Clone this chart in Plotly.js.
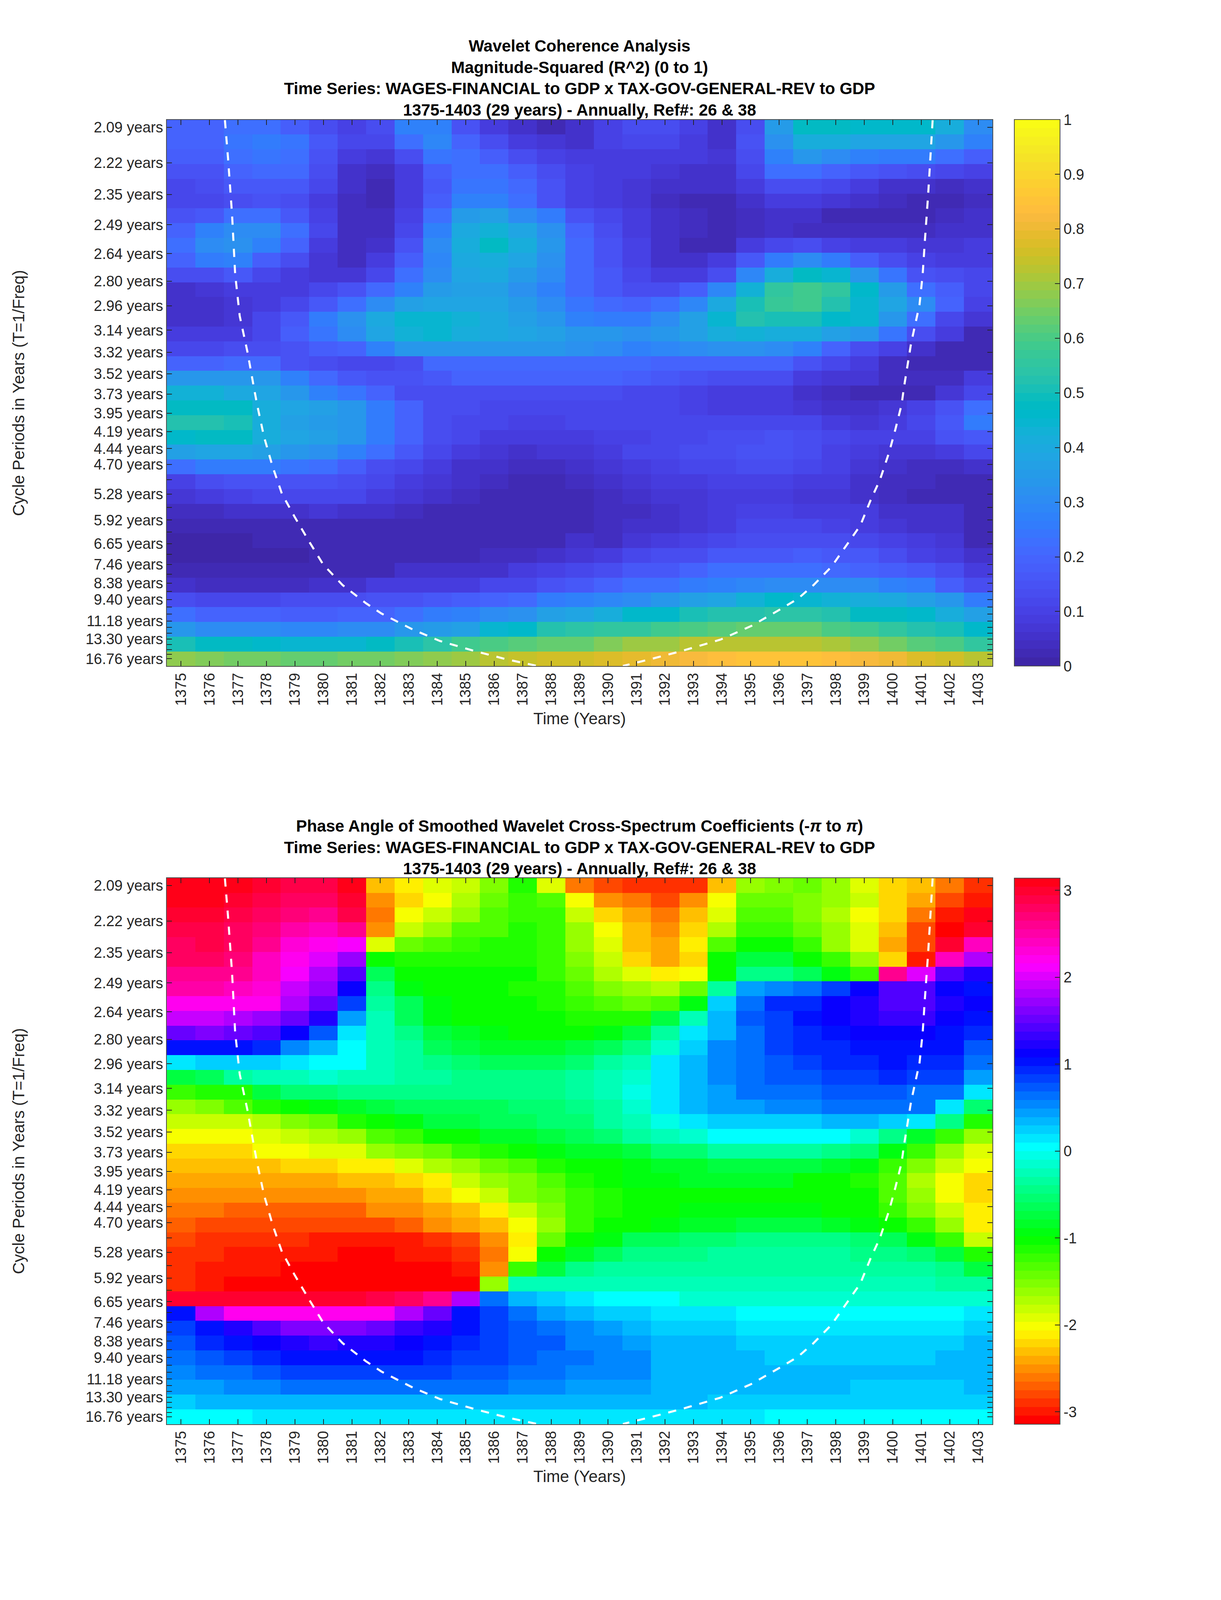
<!DOCTYPE html>
<html>
<head>
<meta charset="utf-8">
<script src="https://cdn.plot.ly/plotly-3.0.1.min.js"></script>
<style>
  html, body { margin: 0; padding: 0; background: #fff; overflow: hidden; }
</style>
</head>
<body>
<div id="chart"></div>
<script>
// Data
const years = [1375,1376,1377,1378,1379,1380,1381,1382,1383,1384,1385,1386,1387,1388,1389,1390,1391,1392,1393,1394,1395,1396,1397,1398,1399,1400,1401,1402,1403];
const periods = [2.09,2.22,2.35,2.49,2.64,2.80,2.96,3.14,3.32,3.52,3.73,3.95,4.19,4.44,4.70,4.98,5.28,5.59,5.92,6.27,6.65,7.05,7.46,7.91,8.38,8.88,9.40,9.96,10.55,11.18,11.85,12.55,13.30,14.09,14.93,15.82,16.76];
const periodLabels = ['2.09 years','2.22 years','2.35 years','2.49 years','2.64 years','2.80 years','2.96 years','3.14 years','3.32 years','3.52 years','3.73 years','3.95 years','4.19 years','4.44 years','4.70 years','','5.28 years','','5.92 years','','6.65 years','','7.46 years','','8.38 years','','9.40 years','','','11.18 years','','','13.30 years','','','','16.76 years'];

// Magnitude-squared coherence, top row first
const coherence = [
  [.2,.2,.22,.22,.18,.14,.1,.14,.28,.28,.15,.08,.05,.03,.05,.1,.13,.13,.1,.06,.14,.35,.47,.47,.46,.46,.46,.42,.3],
  [.19,.19,.24,.26,.24,.16,.11,.12,.22,.29,.2,.13,.09,.07,.06,.1,.11,.11,.09,.06,.15,.32,.42,.41,.39,.39,.39,.33,.28],
  [.18,.18,.22,.24,.23,.15,.09,.07,.14,.24,.22,.18,.14,.1,.08,.08,.09,.09,.08,.07,.14,.27,.34,.31,.28,.25,.25,.23,.18],
  [.15,.15,.2,.21,.21,.14,.06,.04,.09,.18,.22,.22,.18,.13,.1,.08,.08,.07,.05,.06,.12,.22,.23,.2,.17,.15,.13,.12,.1],
  [.12,.13,.16,.17,.16,.11,.05,.03,.09,.17,.24,.24,.21,.15,.1,.08,.07,.05,.05,.06,.09,.14,.14,.12,.09,.06,.05,.04,.05],
  [.11,.11,.14,.15,.13,.08,.04,.03,.09,.18,.28,.28,.23,.15,.1,.08,.07,.04,.03,.03,.06,.09,.09,.07,.05,.04,.03,.03,.04],
  [.15,.17,.22,.22,.17,.1,.04,.04,.1,.23,.35,.36,.3,.25,.15,.11,.08,.05,.04,.03,.04,.05,.05,.03,.03,.03,.03,.04,.05],
  [.2,.27,.3,.3,.22,.11,.04,.04,.11,.27,.4,.43,.39,.32,.19,.13,.09,.06,.04,.03,.04,.06,.04,.04,.04,.04,.04,.05,.06],
  [.23,.3,.32,.27,.19,.09,.04,.06,.15,.3,.42,.47,.41,.33,.21,.15,.1,.05,.03,.03,.08,.11,.14,.1,.08,.08,.07,.07,.08],
  [.2,.25,.27,.18,.13,.07,.04,.08,.18,.29,.4,.42,.39,.32,.21,.15,.1,.06,.05,.09,.17,.25,.3,.26,.18,.14,.1,.09,.09],
  [.13,.14,.16,.12,.08,.07,.07,.12,.22,.3,.38,.4,.35,.3,.21,.16,.12,.09,.08,.14,.29,.42,.48,.44,.34,.24,.15,.13,.11],
  [.06,.07,.09,.09,.09,.12,.15,.21,.28,.35,.36,.36,.32,.27,.21,.17,.14,.14,.18,.29,.43,.55,.59,.56,.46,.35,.22,.18,.12],
  [.05,.05,.07,.08,.12,.17,.23,.31,.36,.38,.38,.38,.35,.3,.24,.21,.2,.22,.29,.4,.5,.57,.58,.52,.44,.38,.3,.2,.1],
  [.06,.06,.07,.12,.16,.25,.32,.4,.44,.45,.43,.4,.37,.33,.28,.26,.25,.3,.36,.44,.52,.5,.5,.46,.44,.34,.22,.12,.07],
  [.08,.08,.09,.12,.18,.24,.31,.38,.43,.44,.41,.4,.38,.36,.34,.33,.32,.33,.36,.42,.43,.42,.41,.37,.34,.24,.13,.08,.03],
  [.12,.12,.13,.13,.15,.18,.2,.27,.33,.34,.33,.33,.33,.33,.32,.3,.28,.29,.3,.32,.32,.3,.27,.2,.13,.1,.05,.03,.03],
  [.19,.19,.21,.21,.15,.13,.12,.12,.14,.21,.21,.21,.21,.21,.21,.21,.21,.2,.2,.2,.2,.2,.15,.11,.08,.04,.03,.02,.02],
  [.33,.33,.33,.33,.27,.21,.17,.15,.15,.17,.19,.19,.19,.2,.2,.19,.18,.17,.15,.13,.13,.13,.09,.07,.07,.04,.04,.04,.08],
  [.43,.43,.4,.39,.33,.28,.24,.19,.14,.13,.13,.14,.14,.14,.14,.14,.12,.12,.1,.09,.09,.08,.05,.04,.03,.02,.02,.07,.12],
  [.48,.48,.48,.42,.38,.36,.33,.25,.2,.14,.14,.12,.11,.12,.12,.12,.12,.11,.1,.09,.09,.08,.07,.06,.06,.07,.1,.15,.22],
  [.52,.52,.5,.42,.36,.35,.33,.25,.2,.14,.11,.11,.1,.1,.11,.11,.12,.12,.12,.11,.12,.12,.12,.08,.07,.08,.12,.17,.25],
  [.46,.47,.47,.42,.38,.36,.33,.25,.19,.13,.11,.09,.09,.09,.09,.1,.1,.12,.12,.14,.14,.15,.14,.12,.1,.1,.1,.15,.17],
  [.36,.38,.38,.36,.33,.32,.28,.22,.17,.12,.09,.07,.06,.07,.07,.08,.11,.11,.13,.14,.15,.15,.13,.1,.08,.07,.07,.09,.11],
  [.22,.25,.25,.25,.24,.23,.18,.14,.11,.09,.06,.05,.04,.04,.05,.07,.08,.1,.11,.12,.13,.13,.12,.1,.07,.06,.04,.04,.05],
  [.1,.13,.15,.15,.15,.15,.14,.12,.09,.07,.05,.04,.03,.03,.04,.06,.07,.09,.09,.1,.1,.1,.09,.08,.06,.04,.04,.03,.03],
  [.07,.08,.1,.11,.12,.12,.11,.08,.07,.05,.04,.03,.03,.03,.03,.04,.05,.07,.07,.09,.09,.09,.07,.07,.05,.04,.03,.03,.02],
  [.04,.04,.05,.06,.06,.07,.05,.05,.04,.03,.03,.03,.03,.03,.03,.04,.04,.06,.07,.08,.1,.1,.09,.08,.08,.06,.05,.05,.02],
  [.02,.02,.03,.03,.03,.03,.03,.03,.03,.03,.03,.03,.03,.03,.03,.04,.05,.06,.07,.09,.11,.11,.11,.1,.09,.07,.06,.05,.03],
  [.015,.015,.015,.02,.02,.02,.02,.02,.02,.02,.02,.02,.02,.03,.05,.04,.07,.08,.1,.12,.13,.14,.14,.13,.12,.1,.08,.07,.03],
  [.015,.015,.015,.015,.015,.03,.02,.02,.02,.02,.02,.04,.04,.05,.07,.09,.11,.13,.14,.16,.17,.17,.18,.17,.16,.13,.1,.08,.06],
  [.02,.02,.02,.02,.02,.02,.02,.02,.05,.05,.05,.06,.08,.1,.11,.13,.16,.17,.2,.22,.23,.23,.22,.21,.2,.18,.16,.13,.08],
  [.06,.04,.04,.04,.04,.05,.06,.08,.08,.09,.09,.11,.12,.15,.16,.19,.22,.23,.26,.28,.29,.3,.3,.3,.3,.28,.25,.18,.14],
  [.13,.12,.12,.12,.13,.13,.13,.15,.15,.16,.18,.19,.21,.25,.27,.29,.3,.33,.36,.39,.43,.46,.44,.43,.41,.4,.37,.33,.25],
  [.22,.2,.19,.19,.18,.18,.19,.2,.22,.26,.28,.3,.32,.36,.38,.42,.46,.46,.5,.52,.52,.54,.54,.53,.48,.47,.46,.42,.36],
  [.33,.31,.31,.3,.29,.29,.3,.31,.33,.35,.36,.44,.46,.52,.54,.55,.55,.58,.6,.62,.63,.63,.63,.6,.58,.55,.53,.5,.46],
  [.5,.48,.47,.46,.45,.45,.45,.47,.5,.54,.58,.6,.62,.64,.64,.67,.69,.69,.72,.73,.73,.73,.73,.71,.68,.65,.62,.6,.55],
  [.68,.66,.65,.65,.63,.64,.65,.65,.67,.68,.7,.72,.74,.75,.76,.78,.79,.8,.82,.83,.85,.85,.85,.83,.82,.8,.78,.76,.73]
];

// Phase angle in radians, top row first
const phase = [
  [3.14,3.14,3.05,2.95,2.85,2.85,3.1,-2.32,-2.15,-1.92,-1.83,-1.48,-1.13,-1.92,-2.65,-2.83,-2.93,-2.93,-2.88,-2.27,-1.66,-1.48,-1.43,-1.66,-1.92,-2.18,-2.32,-2.65,-2.88],
  [3.1,3.1,3.0,2.85,2.8,2.8,3.0,-2.55,-2.25,-2.0,-1.75,-1.45,-1.25,-1.35,-2.05,-2.5,-2.65,-2.8,-2.55,-2.05,-1.45,-1.4,-1.5,-1.65,-1.85,-2.25,-2.4,-2.75,-3.0],
  [3.0,2.95,2.85,2.8,2.7,2.6,2.9,-2.65,-2.05,-1.8,-1.6,-1.35,-1.2,-1.25,-1.8,-2.25,-2.45,-2.6,-2.35,-1.9,-1.35,-1.3,-1.5,-1.7,-2.0,-2.25,-2.65,-3.0,3.1],
  [2.85,2.85,2.75,2.7,2.5,2.4,2.65,-2.55,-1.8,-1.6,-1.35,-1.3,-1.15,-1.25,-1.65,-2.05,-2.35,-2.5,-2.25,-1.75,-1.25,-1.25,-1.4,-1.6,-1.95,-2.35,-2.75,-3.05,2.95],
  [2.8,2.9,2.8,2.6,2.35,2.2,2.15,-1.95,-1.45,-1.3,-1.2,-1.15,-1.1,-1.2,-1.6,-1.95,-2.3,-2.45,-2.1,-1.35,-1.05,-1.05,-1.25,-1.6,-1.95,-2.4,-2.8,3.0,2.45],
  [2.8,2.8,2.7,2.45,2.2,2.0,1.75,-1.05,-1.1,-1.1,-1.1,-1.1,-1.15,-1.2,-1.55,-1.85,-2.25,-2.4,-2.25,-1.0,-.7,-.75,-1.0,-1.25,-1.65,-2.25,-3.0,2.4,1.85],
  [2.65,2.65,2.6,2.4,2.1,1.85,1.4,-.65,-1.0,-1.05,-1.05,-1.05,-1.05,-1.2,-1.45,-1.75,-1.95,-2.15,-2.05,-1.0,-.4,-.4,-.65,-.95,-1.25,2.65,2.0,1.45,1.25],
  [2.55,2.5,2.4,2.35,1.95,1.75,1.15,-.45,-.95,-1.05,-1.05,-1.05,-1.1,-1.15,-1.35,-1.5,-1.6,-1.7,-1.45,-.35,.44,.5,.62,.8,1.15,1.4,1.4,1.15,1.05],
  [2.2,2.2,2.2,2.2,1.85,1.5,.85,-.3,-.6,-.95,-1.0,-1.05,-1.05,-1.15,-1.25,-1.35,-1.45,-1.3,-.95,.25,.65,.9,.95,1.1,1.25,1.45,1.4,1.25,1.1],
  [1.95,1.95,1.8,1.7,1.5,1.2,.4,-.25,-.6,-.9,-1.0,-1.05,-1.05,-1.05,-1.1,-1.1,-1.1,-.75,-.2,.35,.7,.85,1.05,1.1,1.25,1.3,1.3,1.1,1.0],
  [1.5,1.65,1.55,1.45,1.15,.75,.15,-.2,-.4,-.7,-.85,-.95,-1.0,-1.0,-1.0,-.95,-.75,-.35,.12,.38,.65,.85,.95,1.05,1.1,1.1,1.1,1.05,.9],
  [1.05,1.05,1.05,.9,.55,.3,0,-.25,-.35,-.6,-.7,-.8,-.85,-.85,-.75,-.65,-.4,-.1,.22,.55,.6,.85,.9,.9,1.05,1.05,1.05,1.05,.75],
  [.1,.25,.25,.25,.1,0,0,-.2,-.3,-.45,-.55,-.6,-.6,-.6,-.55,-.35,-.2,.1,.35,.5,.6,.7,.8,.95,.95,1.05,.9,.9,.65],
  [-.7,-.6,-.3,-.2,-.2,-.15,-.2,-.25,-.3,-.35,-.4,-.4,-.4,-.4,-.3,-.2,-.1,.15,.35,.5,.65,.75,.75,.85,.85,.95,.85,.85,.45],
  [-1.25,-1.15,-1.15,-.75,-.55,-.5,-.4,-.4,-.4,-.4,-.4,-.4,-.4,-.4,-.35,-.25,-.05,.15,.35,.45,.6,.65,.65,.7,.7,.7,.65,.6,.15],
  [-1.6,-1.5,-1.3,-1.15,-1.05,-.9,-.85,-.7,-.6,-.6,-.6,-.6,-.55,-.5,-.45,-.35,-.1,.1,.35,.45,.45,.55,.55,.65,.6,.6,.6,.15,-.5],
  [-1.85,-1.85,-1.85,-1.7,-1.5,-1.4,-1.15,-1.05,-.9,-.75,-.7,-.65,-.6,-.55,-.5,-.3,-.2,-.05,.1,.25,.25,.25,.25,.3,.3,.2,.1,-.4,-1.15],
  [-2.0,-2.0,-2.0,-1.95,-1.85,-1.75,-1.6,-1.3,-1.2,-1.05,-1.0,-.85,-.8,-.7,-.65,-.5,-.3,-.2,-.1,0,0,.05,.05,0,-.1,-.4,-.8,-1.2,-1.6],
  [-2.2,-2.2,-2.2,-2.05,-2.05,-1.9,-1.9,-1.65,-1.55,-1.45,-1.2,-1.15,-1.05,-.95,-.85,-.8,-.7,-.55,-.5,-.35,-.3,-.3,-.35,-.4,-.55,-.95,-1.2,-1.6,-1.9],
  [-2.35,-2.35,-2.35,-2.35,-2.2,-2.2,-2.1,-2.1,-1.95,-1.7,-1.6,-1.45,-1.3,-1.15,-1.05,-1.0,-.9,-.8,-.8,-.7,-.7,-.7,-.7,-.8,-.95,-1.2,-1.5,-1.85,-2.05],
  [-2.4,-2.4,-2.4,-2.4,-2.4,-2.4,-2.3,-2.3,-2.2,-2.1,-1.85,-1.65,-1.5,-1.3,-1.1,-1.0,-.95,-.9,-.85,-.85,-.85,-.85,-1.0,-1.05,-1.1,-1.3,-1.7,-2.05,-2.2],
  [-2.5,-2.5,-2.5,-2.5,-2.5,-2.5,-2.5,-2.4,-2.4,-2.25,-2.05,-1.8,-1.55,-1.4,-1.2,-1.1,-1.05,-1.0,-1.0,-1.0,-1.0,-1.0,-1.0,-1.05,-1.05,-1.3,-1.65,-2.0,-2.25],
  [-2.6,-2.6,-2.7,-2.7,-2.7,-2.7,-2.7,-2.55,-2.55,-2.4,-2.3,-2.1,-1.8,-1.55,-1.25,-1.1,-1.05,-1.0,-.95,-.95,-.95,-.95,-.95,-1.0,-1.05,-1.2,-1.5,-1.85,-2.1],
  [-2.7,-2.8,-2.8,-2.8,-2.8,-2.8,-2.8,-2.8,-2.7,-2.55,-2.45,-2.3,-2.05,-1.65,-1.2,-1.05,-1.0,-.95,-.85,-.8,-.75,-.75,-.75,-.8,-.9,-1.05,-1.2,-1.6,-2.1],
  [-2.75,-2.9,-2.9,-2.9,-2.9,-3.0,-3.0,-3.0,-3.0,-2.9,-2.75,-2.5,-2.1,-1.4,-1.0,-.9,-.65,-.6,-.55,-.5,-.45,-.45,-.4,-.45,-.55,-.65,-.9,-1.2,-1.8],
  [-2.85,-2.85,-3.0,-3.0,-3.0,-3.0,-3.1,-3.1,-2.95,-2.95,-2.85,-2.6,-2.05,-1.05,-.8,-.6,-.45,-.4,-.4,-.35,-.35,-.35,-.35,-.35,-.4,-.45,-.55,-.75,-1.1],
  [-2.85,-3.0,-3.0,-3.0,-3.1,-3.1,-3.1,-3.1,-3.1,-3.1,-3.0,-2.55,-1.2,-.75,-.45,-.3,-.3,-.3,-.3,-.3,-.3,-.3,-.3,-.3,-.3,-.3,-.35,-.45,-.7],
  [-2.85,-3.0,-3.05,-3.05,-3.14,-3.14,-3.14,-3.14,-3.14,-3.14,-3.14,-1.6,-.25,-.25,-.25,-.25,-.25,-.25,-.25,-.25,-.25,-.25,-.25,-.25,-.25,-.25,-.25,-.35,-.35],
  [3.0,3.0,3.0,3.0,3.0,2.95,2.95,2.85,2.8,2.6,1.8,.65,.3,.2,.1,0,0,0,-.1,-.1,-.1,-.1,-.1,-.1,-.1,-.1,-.1,-.1,-.1],
  [1.05,1.85,2.2,2.2,2.2,2.2,2.2,2.2,1.85,1.5,1.05,.8,.6,.45,.35,.2,.2,.12,.12,.12,0,0,0,0,0,0,0,0,.1],
  [.85,1.05,1.25,1.45,1.6,1.6,1.6,1.5,1.35,1.25,1.05,.85,.75,.65,.5,.4,.3,.2,.2,.2,.1,.1,.1,.1,.1,.1,.1,.1,.2],
  [.75,.9,1.05,1.1,1.2,1.3,1.2,1.2,1.1,1.05,.95,.85,.75,.7,.55,.5,.4,.3,.3,.3,.2,.2,.2,.2,.2,.2,.2,.2,.3],
  [.6,.75,.85,.95,1.05,1.05,1.05,1.05,1.05,.95,.85,.85,.75,.65,.65,.5,.5,.38,.38,.3,.3,.2,.2,.2,.2,.2,.2,.3,.3],
  [.5,.6,.6,.75,.8,.8,.8,.8,.8,.8,.7,.7,.6,.6,.5,.5,.5,.38,.38,.3,.3,.3,.3,.3,.3,.3,.3,.3,.3],
  [.45,.45,.5,.5,.62,.62,.62,.62,.62,.62,.62,.62,.5,.5,.45,.45,.4,.38,.3,.3,.3,.3,.3,.3,.22,.22,.22,.22,.35],
  [.2,.3,.3,.3,.38,.38,.38,.38,.38,.38,.38,.38,.38,.38,.3,.3,.3,.3,.3,.2,.2,.2,.2,.2,.2,.2,.2,.2,.2],
  [.08,.08,.08,.15,.15,.15,.15,.15,.15,.15,.15,.15,.15,.15,.15,.15,.15,.15,.15,.15,.15,.08,.08,.08,.08,.08,.08,.08,.08]
];

// Cone of influence, read in year / frequency (1/T) pairs
const coiLeftYear = [1376.54,1376.65,1376.79,1376.90,1377.06,1377.34,1377.56,1377.67,1377.91,1378.21,1378.54,1378.98,1379.50,1379.99,1380.67,1381.49,1382.04,1383.14,1384.09,1385.32,1386.42,1387.51];
const coiLeftFreq = [.4840,.4539,.4100,.3626,.3297,.3005,.2731,.2600,.2349,.2114,.1898,.1718,.1520,.1340,.1178,.1035,.0953,.0827,.0737,.0657,.0593,.0540];
const coiRightYear = [1401.40,1401.32,1401.24,1401.13,1401.05,1400.94,1400.64,1400.39,1400.31,1400.09,1399.87,1399.55,1399.22,1398.86,1398.31,1397.85,1397.22,1396.67,1396.07,1395.03,1393.94,1392.57,1391.48,1390.52];
const coiRightFreq = [.4840,.4539,.4246,.3900,.3626,.3388,.3078,.2731,.2600,.2403,.2222,.2007,.1845,.1647,.1467,.1323,.1178,.1070,.0989,.0855,.0747,.0657,.0593,.0540];

// Old parula, 64 steps
const parula = [[.2422,.1504,.6603],[.2504,.1650,.7076],[.2578,.1818,.7511],[.2647,.1978,.7952],[.2706,.2147,.8364],[.2751,.2342,.8710],[.2783,.2559,.8991],[.2803,.2782,.9221],[.2813,.3006,.9414],[.2810,.3228,.9579],[.2795,.3447,.9717],[.2760,.3667,.9829],[.2699,.3892,.9906],[.2602,.4123,.9952],[.2440,.4358,.9988],[.2206,.4603,.9973],[.1963,.4847,.9892],[.1834,.5074,.9798],[.1786,.5289,.9682],[.1764,.5499,.9520],[.1687,.5703,.9359],[.1540,.5902,.9218],[.1460,.6091,.9079],[.1380,.6276,.8973],[.1248,.6459,.8883],[.1113,.6635,.8763],[.0952,.6798,.8598],[.0689,.6948,.8394],[.0297,.7082,.8163],[.0036,.7203,.7917],[.0067,.7312,.7660],[.0433,.7411,.7394],[.0964,.7500,.7120],[.1408,.7584,.6842],[.1717,.7670,.6554],[.1938,.7758,.6251],[.2161,.7843,.5923],[.2470,.7918,.5567],[.2906,.7973,.5188],[.3406,.8008,.4789],[.3909,.8029,.4354],[.4456,.8024,.3909],[.5044,.7993,.3480],[.5616,.7942,.3045],[.6174,.7876,.2612],[.6720,.7793,.2227],[.7242,.7698,.1910],[.7738,.7598,.1646],[.8203,.7498,.1535],[.8634,.7406,.1596],[.9035,.7330,.1774],[.9393,.7288,.2100],[.9728,.7298,.2394],[.9956,.7434,.2371],[.9970,.7659,.2199],[.9952,.7893,.2028],[.9892,.8136,.1885],[.9786,.8386,.1766],[.9676,.8639,.1643],[.9610,.8890,.1537],[.9597,.9135,.1423],[.9628,.9373,.1265],[.9691,.9606,.1064],[.9769,.9839,.0805]];

// Layout is measured on the 3125x6252 reference and scaled to the real window,
// the renderer can hand us a shorter window than that and would cut the lower panel
const REF_W = 3125, REF_H = 6252;
const W = window.innerWidth || REF_W;
const H = window.innerHeight || REF_H;
const s = Math.min(W / REF_W, H / REF_H);
const FONT = '"Liberation Sans", Arial, sans-serif';
const INK = '#262626';
const TICK_SIZE = 58 * s, LABEL_SIZE = 64 * s;

// Step colorscale so the bands stay hard, like the 64 colour MATLAB maps
function stepScale(colors) {
    const out = [];
    colors.forEach((c, i) => {
        out.push([i / colors.length, c]);
        out.push([(i + 1) / colors.length, c]);
    });
    return out;
}

const parulaScale = stepScale(parula.map(c => `rgb(${c.map(v => Math.round(v * 255)).join(',')})`));
const hsvScale = stepScale(Array.from({ length: 64 }, (_, i) => `hsl(${i / 64 * 360},100%,50%)`));

// Rows are evenly spaced in frequency, ticks sit at 1/T
const fTop = 1 / periods[0];
const fBottom = 1 / periods[periods.length - 1];
const df = (fTop - fBottom) / (periods.length - 1);
const rowFreq = periods.map((_, i) => fTop - i * df);
const tickFreq = periods.map(T => 1 / T);

const coiYear = [...coiLeftYear, null, ...coiRightYear];
const coiFreq = [...coiLeftFreq, null, ...coiRightFreq];

const plotLeft = 427, plotRight = 2540, barLeft = 2596;
const top1 = 468, bottom1 = 2603, top2 = 3431, bottom2 = 5565;
const plotCentre = (plotLeft + plotRight) / 2 / REF_W;

function heat(z, scale, zmin, zmax, xa, ya, top, bottom, tickvals) {
    return {
        type: 'heatmap', z, x: years, y: rowFreq, xaxis: xa, yaxis: ya,
        colorscale: scale, zmin, zmax,
        hoverinfo: 'skip',
        colorbar: {
            x: barLeft / REF_W, xanchor: 'left', xpad: 0,
            y: 1 - bottom / REF_H, yanchor: 'bottom', ypad: 0,
            len: (bottom - top) / REF_H, thickness: 117 * W / REF_W,
            outlinecolor: '#4d4d4d', outlinewidth: 3 * s,
            ticks: 'inside', ticklen: 20 * s, tickwidth: 3 * s, tickcolor: INK,
            tickmode: 'array', tickvals, ticktext: tickvals.map(String),
            tickfont: { family: FONT, size: TICK_SIZE, color: INK }
        }
    };
}

function coi(xa, ya) {
    return {
        type: 'scatter', mode: 'lines', x: coiYear, y: coiFreq, xaxis: xa, yaxis: ya,
        line: { color: '#fff', width: 8 * s, dash: `${32 * s}px,${31 * s}px` },
        showlegend: false, hoverinfo: 'skip'
    };
}

function xAxis(anchor) {
    return {
        anchor, domain: [plotLeft / REF_W, plotRight / REF_W], range: [1374.5, 1403.5],
        tickmode: 'array', tickvals: years, ticktext: years.map(String), tickangle: -90,
        ticks: 'inside', ticklen: 20 * s, tickwidth: 3 * s, tickcolor: INK,
        tickfont: { family: FONT, size: TICK_SIZE, color: INK }, ticklabelstandoff: 10 * s,
        showline: true, linecolor: '#4d4d4d', linewidth: 3 * s, mirror: 'allticks',
        showgrid: false, zeroline: false,
        title: { text: 'Time (Years)', font: { family: FONT, size: LABEL_SIZE, color: INK }, standoff: 28 * s }
    };
}

function yAxis(anchor, top, bottom) {
    return {
        anchor, domain: [1 - bottom / REF_H, 1 - top / REF_H], range: [fBottom - df / 2, fTop + df / 2],
        tickmode: 'array', tickvals: tickFreq, ticktext: periodLabels,
        ticks: 'inside', ticklen: 20 * s, tickwidth: 3 * s, tickcolor: INK,
        tickfont: { family: FONT, size: TICK_SIZE, color: INK }, ticklabelstandoff: 9 * s,
        showline: true, linecolor: '#4d4d4d', linewidth: 3 * s, mirror: 'allticks',
        showgrid: false, zeroline: false
    };
}

function titleNote(text, top) {
    return {
        xref: 'paper', yref: 'paper', showarrow: false,
        x: plotCentre, xanchor: 'center',
        y: 1 - top / REF_H, yanchor: 'top',
        text, font: { family: FONT, size: LABEL_SIZE, color: '#000', weight: 'bold' }
    };
}

function yTitleNote(top, bottom) {
    return {
        xref: 'paper', yref: 'paper', showarrow: false, textangle: -90,
        x: 48 / REF_W, xanchor: 'center',
        y: 1 - (top + bottom) / 2 / REF_H, yanchor: 'middle',
        text: 'Cycle Periods in Years (T=1/Freq)',
        font: { family: FONT, size: LABEL_SIZE, color: INK }
    };
}

const traces = [
    heat(coherence, parulaScale, 0, 1, 'x', 'y', top1, bottom1, [0, .1, .2, .3, .4, .5, .6, .7, .8, .9, 1]),
    coi('x', 'y'),
    heat(phase, hsvScale, -Math.PI, Math.PI, 'x2', 'y2', top2, bottom2, [-3, -2, -1, 0, 1, 2, 3]),
    coi('x2', 'y2')
];

const layout = {
    width: W, height: H,
    paper_bgcolor: '#fff', plot_bgcolor: '#fff',
    margin: { l: 0, r: 0, t: 0, b: 0 },
    showlegend: false,
    font: { family: FONT, color: INK },
    annotations: [
        titleNote('Wavelet Coherence Analysis<br>Magnitude-Squared (R^2) (0 to 1)<br>Time Series: WAGES-FINANCIAL to GDP x TAX-GOV-GENERAL-REV to GDP<br>1375-1403 (29 years) - Annually, Ref#: 26 &amp; 38', 140),
        titleNote('Phase Angle of Smoothed Wavelet Cross-Spectrum Coefficients (-<i>π</i> to <i>π</i>)<br>Time Series: WAGES-FINANCIAL to GDP x TAX-GOV-GENERAL-REV to GDP<br>1375-1403 (29 years) - Annually, Ref#: 26 &amp; 38', 3188),
        yTitleNote(top1, bottom1),
        yTitleNote(top2, bottom2)
    ],
    xaxis: xAxis('y'),
    yaxis: yAxis('x', top1, bottom1),
    xaxis2: xAxis('y2'),
    yaxis2: yAxis('x2', top2, bottom2)
};

Plotly.newPlot('chart', traces, layout, { displayModeBar: false, responsive: false });
</script>
</body>
</html>
